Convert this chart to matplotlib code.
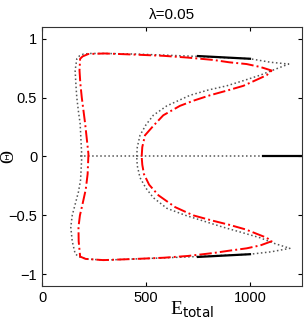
import matplotlib
matplotlib.use("Agg")
import matplotlib.pyplot as plt

# dotted curve (closed loop)
dot_E = [455, 458, 471, 500, 535, 600, 712, 800, 888, 970, 1048, 1120, 1186,
         1100, 1000, 870, 744, 600, 450, 300, 230, 199, 180, 167, 159, 163, 167, 175, 183, 191,
         185, 175, 160, 145, 138, 145, 159, 175, 210, 300, 450, 600, 744, 870, 1000, 1100, 1192,
         1120, 1048, 960, 870, 780, 690, 600, 535, 500, 471, 458, 455]
dot_T = [0.0, 0.08, 0.18, 0.27, 0.35, 0.43, 0.52, 0.565, 0.60, 0.645, 0.69, 0.74, 0.785,
         0.80, 0.83, 0.84, 0.85, 0.86, 0.87, 0.875, 0.875, 0.87, 0.855, 0.83, 0.73, 0.60, 0.50, 0.38, 0.28, 0.0,
         -0.20, -0.30, -0.40, -0.50, -0.60, -0.72, -0.825, -0.85, -0.87, -0.88, -0.87, -0.86, -0.85, -0.84, -0.83, -0.81, -0.78,
         -0.74, -0.69, -0.645, -0.60, -0.55, -0.50, -0.44, -0.35, -0.27, -0.18, -0.08, 0.0]

# red dash-dot curve
red_E = [479, 482, 495, 535, 583, 663, 730, 808, 890, 968, 1080, 1104,
         1050, 984, 900, 823, 700, 583, 450, 300, 222, 195, 183, 180, 184, 191, 207, 223,
         219, 210, 195, 182, 175, 176, 183, 210, 295, 450, 583, 700, 823, 900, 984, 1050, 1104,
         1080, 980, 900, 820, 727, 640, 560, 515, 490, 482, 479]
red_T = [0.0, 0.08, 0.18, 0.26, 0.35, 0.43, 0.475, 0.52, 0.56, 0.60, 0.69, 0.73,
         0.76, 0.785, 0.80, 0.82, 0.84, 0.855, 0.865, 0.875, 0.87, 0.85, 0.83, 0.73, 0.62, 0.50, 0.28, 0.02,
         -0.15, -0.28, -0.40, -0.50, -0.60, -0.72, -0.85, -0.87, -0.88, -0.87, -0.86, -0.845, -0.82, -0.80, -0.78, -0.755, -0.72,
         -0.69, -0.62, -0.58, -0.545, -0.50, -0.43, -0.33, -0.24, -0.15, -0.07, 0.0]

# horizontal dotted branch
mid_E = [183, 1063]
mid_T = [0.0, 0.0]

# solid black segments
solid_segs = [([750, 1000], [0.853, 0.83]),
              ([750, 1000], [-0.853, -0.83]),
              ([1063, 1250], [0.0, 0.0])]

xticks = [0, 500, 1000]
yticks = [-1, -0.5, 0, 0.5, 1]

plt.rcParams['font.family'] = ['Liberation Sans', 'DejaVu Sans']

fig = plt.figure(figsize=(3.05, 3.21), dpi=100)
ax = fig.add_axes([0.138, 0.109, 0.852, 0.807])

ax.plot(dot_E, dot_T, ':', color='#555555', lw=1.1)
ax.plot(mid_E, mid_T, ':', color='#555555', lw=1.1)
ax.plot(red_E, red_T, '-.', color='red', lw=1.4)
for xs, ys in solid_segs:
    ax.plot(xs, ys, '-', color='black', lw=1.6)

ax.set_xlim(0, 1250)
ax.set_ylim(-1.1, 1.1)
ax.set_xticks(xticks)
ax.set_yticks(yticks)
ax.set_yticklabels(['\u22121', '\u22120.5', '0', '0.5', '1'])
ax.tick_params(direction='in', top=True, right=True, labelsize=10.5, length=3)
for sp in ax.spines.values():
    sp.set_color('#333333')
ax.set_title('\u03bb=0.05', fontsize=11, pad=6)
ax.set_xlabel(r'E$_{\rm total}$', family='Liberation Serif', fontsize=14, va='top')
ax.xaxis.set_label_coords(0.577, -0.052)
ax.set_ylabel('\u0398', family='Liberation Serif', fontsize=13, va='center')
ax.yaxis.set_label_coords(-0.13, 0.5)

fig.savefig('out.png', dpi=100)
